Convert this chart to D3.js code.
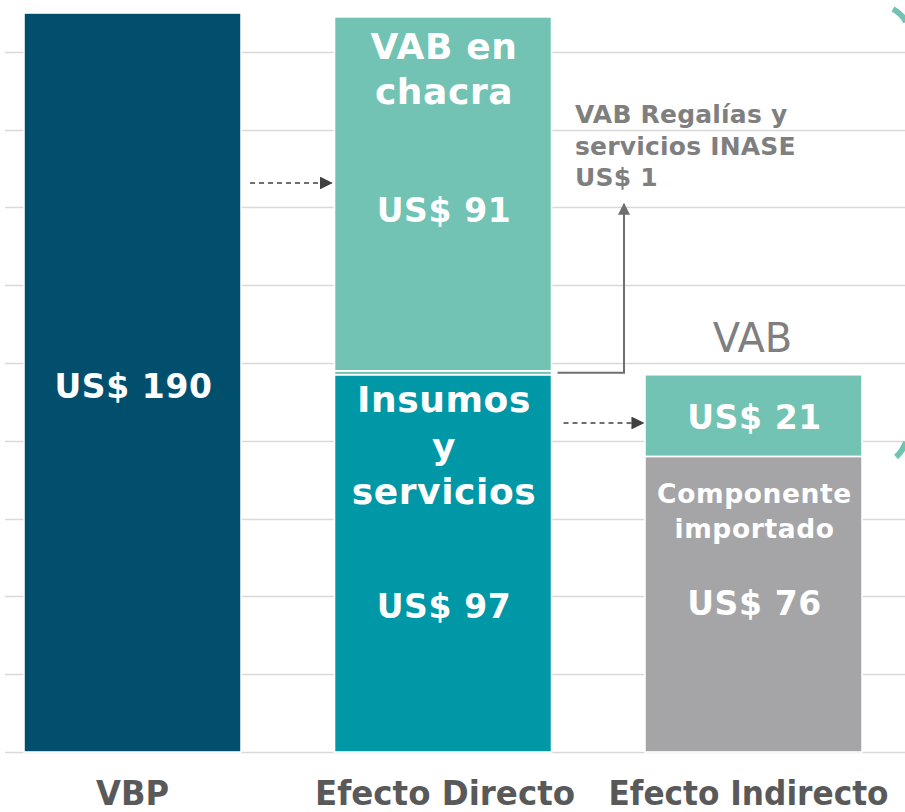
<!DOCTYPE html>
<html>
<head>
<meta charset="utf-8">
<script src="https://cdn.jsdelivr.net/npm/d3@7"></script>
<style>
  body { margin: 0; background: #fff; }
  svg { display: block; }
  text { font-family: "DejaVu Sans", Verdana, sans-serif; }
</style>
</head>
<body>
<div class="container"></div>
<script>
// categories and stacked values (US$)
const categories = ["VBP", "Efecto Directo", "Efecto Indirecto"];
const vbpValues = [190];
const directoValues = [97, 1, 91];      // Insumos y servicios, Regalías INASE, VAB en chacra
const indirectoValues = [76, 21];       // Componente importado, VAB
const gridTicks = [0, 20, 40, 60, 80, 100, 120, 140, 160, 180];

const w = 905, h = 812;

/* colors */
const navy = "#014f6d";
const teal = "#0097a7";
const mint = "#72c3b3";
const grey = "#a5a5a7";
const textGrey = "#7f7f7f";

const svg = d3.select(".container").append("svg")
  .attr("width", w).attr("height", h);

const x = d3.scaleBand()
  .domain(categories)
  .range([-22.75, 908.75])
  .paddingInner(0.301)
  .paddingOuter(0.1505);

const y = d3.scaleLinear().domain([0, 190]).range([752, 13]);

/* gridlines */
svg.append("g").selectAll("line")
  .data(gridTicks)
  .enter().append("line")
  .attr("x1", 5).attr("x2", w)
  .attr("y1", d => Math.round(y(d)) + 0.5)
  .attr("y2", d => Math.round(y(d)) + 0.5)
  .attr("stroke", "#d9d9d9")
  .attr("stroke-width", 1.5);

/* build stacked segments */
const stacks = [
  { cat: "VBP", values: vbpValues, colors: [navy] },
  { cat: "Efecto Directo", values: directoValues, colors: [teal, mint, mint] },
  { cat: "Efecto Indirecto", values: indirectoValues, colors: [grey, mint] }
];
const segs = [];
stacks.forEach(s => {
  let acc = 0;
  s.values.forEach((v, i) => {
    segs.push({ cat: s.cat, y0: acc, y1: acc + v, color: s.colors[i] });
    acc += v;
  });
});

svg.append("g").selectAll("rect")
  .data(segs)
  .enter().append("rect")
  .attr("x", d => x(d.cat))
  .attr("width", x.bandwidth())
  .attr("y", d => y(d.y1))
  .attr("height", d => y(d.y0) - y(d.y1))
  .attr("fill", d => d.color)
  .attr("stroke", "#fff")
  .attr("stroke-width", 1.6);

/* labels inside the bars */
const cx = c => x(c) + x.bandwidth() / 2;
const inLabel = (c, yy, txt, size) => svg.append("text")
  .attr("x", cx(c) + 1).attr("y", yy)
  .attr("text-anchor", "middle")
  .attr("dominant-baseline", "central")
  .attr("fill", "#fff")
  .attr("font-weight", "bold")
  .attr("font-size", size)
  .attr("letter-spacing", 0.6)
  .text(txt);

inLabel("VBP", 386, "US$ " + vbpValues[0], 33);

inLabel("Efecto Directo", 46, "VAB en", 36);
inLabel("Efecto Directo", 91, "chacra", 36);
inLabel("Efecto Directo", 210, "US$ " + directoValues[2], 33);

inLabel("Efecto Directo", 399, "Insumos", 36);
inLabel("Efecto Directo", 446, "y", 36);
inLabel("Efecto Directo", 491, "servicios", 36);
inLabel("Efecto Directo", 606, "US$ " + directoValues[0], 33);

inLabel("Efecto Indirecto", 417, "US$ " + indirectoValues[1], 33);
inLabel("Efecto Indirecto", 493, "Componente", 26.5);
inLabel("Efecto Indirecto", 528, "importado", 26.5);
inLabel("Efecto Indirecto", 603, "US$ " + indirectoValues[0], 33);

/* "VAB" over the indirect bar */
svg.append("text")
  .attr("x", cx("Efecto Indirecto") - 1).attr("y", 352)
  .attr("text-anchor", "middle")
  .attr("fill", textGrey)
  .attr("font-size", 40)
  .text("VAB");

/* category labels (condensed bold) */
const catWidth = { "VBP": 73, "Efecto Directo": 260, "Efecto Indirecto": 280 };
const catShift = { "VBP": 0, "Efecto Directo": 2, "Efecto Indirecto": -5 };
svg.append("g").selectAll("text")
  .data(categories)
  .enter().append("text")
  .attr("x", d => cx(d) + catShift[d])
  .attr("y", 805)
  .attr("text-anchor", "middle")
  .attr("fill", "#595959")
  .attr("font-weight", "bold")
  .attr("font-size", 34)
  .attr("textLength", d => catWidth[d])
  .attr("lengthAdjust", "spacingAndGlyphs")
  .style("font-family", "'DejaVu Sans Condensed', 'DejaVu Sans', sans-serif")
  .text(d => d);

/* arrow markers */
const defs = svg.append("defs");
defs.append("marker")
  .attr("id", "head-dark")
  .attr("viewBox", "0 0 10 10")
  .attr("refX", 9).attr("refY", 5)
  .attr("markerWidth", 8).attr("markerHeight", 8)
  .attr("markerUnits", "strokeWidth")
  .attr("orient", "auto")
  .append("path").attr("d", "M0,0L10,5L0,10Z").attr("fill", "#404040");
defs.append("marker")
  .attr("id", "head-grey")
  .attr("viewBox", "0 0 10 10")
  .attr("refX", 9).attr("refY", 5)
  .attr("markerWidth", 6).attr("markerHeight", 6)
  .attr("markerUnits", "strokeWidth")
  .attr("orient", "auto")
  .append("path").attr("d", "M0,0L10,5L0,10Z").attr("fill", "#6f6f6f");

/* dashed flow arrows */
const xEnd = c => x(c) + x.bandwidth();
svg.append("line")
  .attr("x1", xEnd("VBP") + 9).attr("x2", x("Efecto Directo") - 3)
  .attr("y1", 183).attr("y2", 183)
  .attr("stroke", "#404040").attr("stroke-width", 1.6)
  .attr("stroke-dasharray", "5,4")
  .attr("marker-end", "url(#head-dark)");
svg.append("line")
  .attr("x1", xEnd("Efecto Directo") + 12).attr("x2", x("Efecto Indirecto") - 2)
  .attr("y1", 423).attr("y2", 423)
  .attr("stroke", "#404040").attr("stroke-width", 1.6)
  .attr("stroke-dasharray", "5,4")
  .attr("marker-end", "url(#head-dark)");

/* connector from regalías stripe to annotation */
const yReg = y(directoValues[0] + directoValues[1] / 2);
svg.append("path")
  .attr("d", `M${xEnd("Efecto Directo") + 6},${yReg}H624V204`)
  .attr("fill", "none")
  .attr("stroke", "#6f6f6f").attr("stroke-width", 2)
  .attr("marker-end", "url(#head-grey)");

const note = svg.append("text")
  .attr("x", 575).attr("y", 123)
  .attr("fill", textGrey)
  .attr("font-weight", "bold")
  .attr("font-size", 25)
  .attr("letter-spacing", 0.2);
["VAB Regalías y", "servicios INASE", "US$ " + directoValues[1]].forEach((t, i) => {
  note.append("tspan").attr("x", 575).attr("dy", i === 0 ? 0 : 31.5).text(t);
});

/* decorative arcs at right edge */
svg.append("path")
  .attr("d", "M893,9 Q902,14 906,22")
  .attr("fill", "none").attr("stroke", mint).attr("stroke-width", 6);
svg.append("path")
  .attr("d", "M896,457 Q902,452 906,442")
  .attr("fill", "none").attr("stroke", mint).attr("stroke-width", 6);
</script>
</body>
</html>
